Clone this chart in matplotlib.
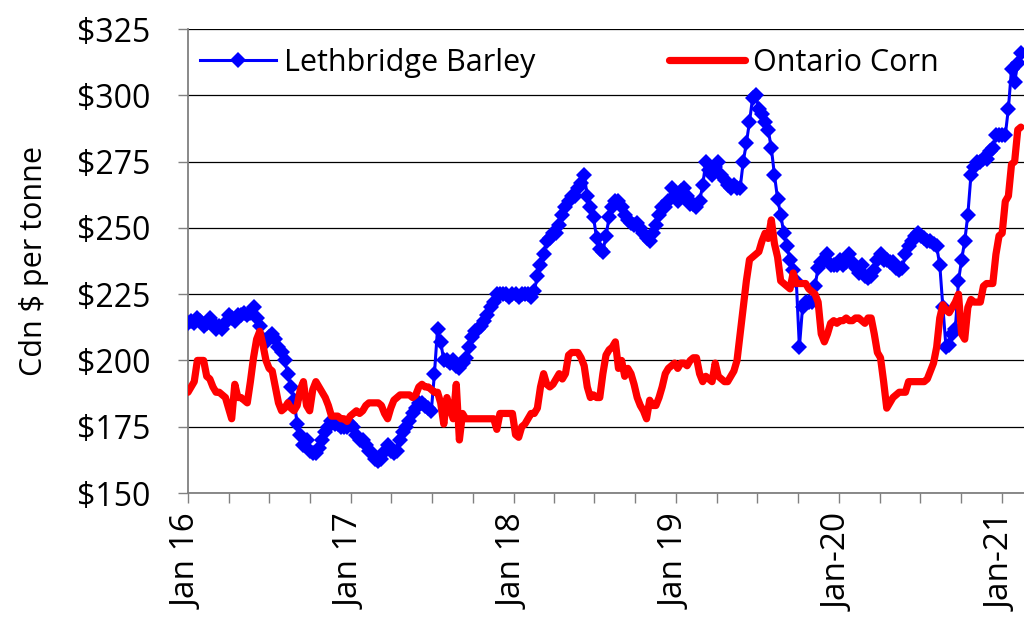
import matplotlib
matplotlib.use("Agg")
import matplotlib.pyplot as plt
import pandas as pd

plt.rcParams['font.family'] = ['Open Sans', 'DejaVu Sans']

# Weekly prices, Cdn $ per tonne (first week of Jan 2016 onward)
barley_2016 = [214, 215, 214, 216, 215, 213, 214, 216, 214, 212, 213, 212, 214, 217, 216, 215, 217, 217,
               218, 217, 218, 220, 216, 213, 208, 207, 209, 210, 208, 205, 203, 200, 195, 190, 185, 176,
               172, 168, 170, 166, 165, 165, 167, 170, 173, 175, 177, 176, 176, 175, 175, 175]
barley_2017 = [176, 175, 172, 170, 170, 168, 166, 165, 163, 162, 163, 166, 168, 166, 165, 166, 170, 173,
               175, 177, 180, 182, 184, 184, 183, 182, 181, 195, 212, 207, 200, 200, 199, 200, 198, 197,
               199, 201, 205, 209, 211, 212, 213, 215, 217, 220, 222, 225, 225, 225, 225, 224]
barley_2018 = [225, 225, 224, 225, 225, 225, 224, 226, 232, 236, 240, 245, 246, 248, 248, 251, 255, 258,
               260, 262, 262, 265, 267, 270, 262, 258, 254, 246, 242, 241, 247, 254, 258, 260, 260, 258,
               255, 253, 252, 251, 252, 250, 248, 246, 245, 248, 251, 255, 258, 258, 260, 265]
barley_2019 = [262, 260, 264, 265, 262, 259, 259, 258, 260, 266, 275, 272, 270, 273, 275, 270, 268, 266,
               265, 266, 265, 265, 275, 282, 290, 299, 300, 295, 293, 290, 287, 280, 270, 261, 255, 248,
               243, 238, 234, 230, 205, 220, 222, 222, 222, 228, 235, 237, 238, 240, 236, 236]
barley_2020 = [236, 238, 236, 237, 240, 237, 235, 233, 236, 232, 231, 232, 234, 238, 240, 238, 238, 237,
               237, 235, 234, 235, 240, 243, 245, 247, 248, 247, 246, 245, 245, 244, 243, 236, 220, 205,
               206, 210, 212, 230, 238, 245, 255, 270, 273, 275, 275, 276, 276, 279, 280, 285]
barley_2021 = [285, 285, 285, 295, 310, 305, 312, 316]

corn_2016 = [188, 190, 192, 200, 200, 200, 194, 193, 190, 188, 188, 187, 186, 182, 178, 191, 186, 186,
             185, 184, 192, 201, 208, 211, 206, 200, 197, 196, 190, 184, 181, 182, 184, 182, 181, 183,
             189, 192, 183, 181, 189, 192, 190, 188, 186, 183, 179, 179, 179, 178, 178, 177]
corn_2017 = [179, 180, 181, 180, 181, 183, 184, 184, 184, 184, 183, 180, 178, 182, 185, 186, 187, 187,
             187, 187, 186, 187, 190, 191, 190, 190, 189, 188, 188, 184, 176, 186, 182, 178, 191, 170,
             180, 178, 178, 178, 178, 178, 178, 178, 178, 178, 178, 174, 180, 180, 180, 180]
corn_2018 = [180, 172, 171, 175, 176, 178, 180, 180, 182, 190, 195, 191, 190, 191, 193, 195, 193, 195,
             202, 203, 203, 203, 201, 198, 190, 186, 187, 186, 186, 195, 202, 204, 205, 207, 197, 200,
             194, 197, 195, 191, 186, 183, 181, 178, 185, 183, 183, 186, 190, 195, 197, 198]
corn_2019 = [199, 197, 199, 199, 198, 200, 201, 201, 195, 192, 194, 193, 192, 199, 194, 193, 192, 192,
             194, 196, 200, 210, 220, 230, 238, 239, 240, 241, 245, 248, 246, 253, 244, 239, 230, 229,
             228, 227, 233, 229, 229, 229, 229, 227, 226, 225, 222, 210, 207, 210, 214, 215]
corn_2020 = [214, 215, 215, 216, 215, 215, 216, 216, 215, 214, 216, 216, 210, 203, 201, 192, 182, 184,
             186, 187, 188, 188, 188, 192, 192, 192, 192, 192, 192, 193, 196, 199, 205, 216, 221, 219,
             218, 220, 222, 225, 210, 208, 220, 223, 222, 222, 222, 228, 229, 229, 229, 240]
corn_2021 = [247, 248, 260, 262, 274, 275, 287, 288]

barley = barley_2016 + barley_2017 + barley_2018 + barley_2019 + barley_2020 + barley_2021
corn = corn_2016 + corn_2017 + corn_2018 + corn_2019 + corn_2020 + corn_2021
dates = pd.date_range('2016-01-01', periods=len(barley), freq='7D')

y_ticks = [150, 175, 200, 225, 250, 275, 300, 325]
y_tick_labels = [r'\$' + str(v) for v in y_ticks]
x_ticks = pd.date_range('2016-01-01', '2021-01-01', freq='QS')
year_labels = {2016: 'Jan 16', 2017: 'Jan 17', 2018: 'Jan 18', 2019: 'Jan 19', 2020: 'Jan-20', 2021: 'Jan-21'}
x_tick_labels = [year_labels[d.year] if d.month == 1 else '' for d in x_ticks]

fig = plt.figure(figsize=(10.24, 6.2), dpi=100)
ax = fig.add_axes([188 / 1024, 127 / 620, 836 / 1024, 464 / 620])

l1, = ax.plot(dates, barley, color='#0000FF', lw=2.2, marker='D', markersize=8,
              markeredgewidth=0, label='Lethbridge Barley', zorder=3)
l2, = ax.plot(dates, corn, color='#FF0000', lw=5.2, solid_capstyle='round',
              label='Ontario Corn', zorder=4)

ax.set_xlim(pd.Timestamp('2016-01-01'), pd.Timestamp('2021-02-19'))
ax.set_ylim(150, 325)
ax.set_yticks(y_ticks)
ax.set_yticklabels(y_tick_labels)
ax.set_xticks(x_ticks)
ax.set_xticklabels(x_tick_labels, rotation=90)

ax.grid(axis='y', color='black', lw=0.9, zorder=0)
ax.set_axisbelow(True)
for s in ['top', 'right']:
    ax.spines[s].set_visible(False)
for s in ['left', 'bottom']:
    ax.spines[s].set_color('#808080')
    ax.spines[s].set_linewidth(1.3)
ax.tick_params(axis='both', direction='out', length=7, width=1.0, color='#808080',
               labelcolor='black')
ax.tick_params(axis='y', pad=20, labelsize=23)
ax.tick_params(axis='x', pad=8, labelsize=24)

ax.set_ylabel(r'Cdn \$ per tonne', fontsize=22, labelpad=20)

leg1 = ax.legend(handles=[l1], loc='center left', bbox_to_anchor=((200 - 188) / 836, (493 - 63) / 464),
                 frameon=False, fontsize=22, handlelength=2.5, handletextpad=0.25,
                 borderpad=0, borderaxespad=0)
ax.add_artist(leg1)
leg2 = ax.legend(handles=[l2], loc='center left', bbox_to_anchor=((669 - 188) / 836, (493 - 63) / 464),
                 frameon=False, fontsize=22, handlelength=2.5, handletextpad=0.25,
                 borderpad=0, borderaxespad=0)

fig.savefig('out.png', dpi=100)
